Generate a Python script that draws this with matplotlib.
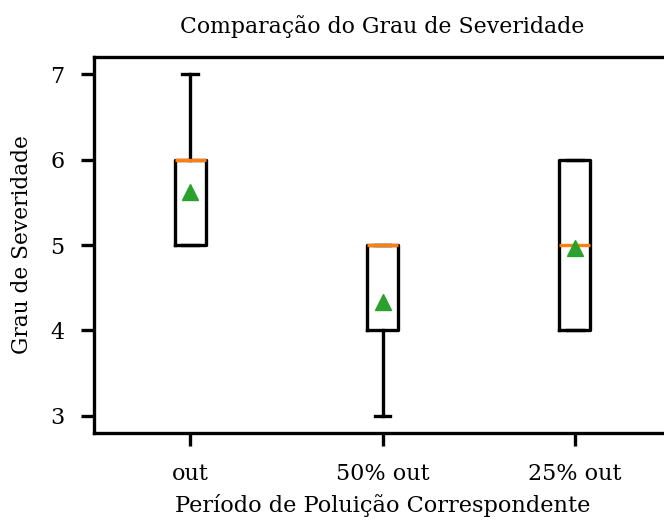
import matplotlib
matplotlib.use("Agg")
import matplotlib.pyplot as plt

# boxplot summary per period
labels = ["out", "50% out", "25% out"]
q1 = [5, 4, 4]
medians = [6, 5, 5]
q3 = [6, 5, 6]
whislo = [5, 3, 4]
whishi = [7, 5, 6]
means = [5.62, 4.33, 4.97]

plt.rcParams['font.family'] = ['DejaVu Serif']

stats = []
for i in range(len(labels)):
    stats.append({
        'label': labels[i],
        'q1': q1[i], 'med': medians[i], 'q3': q3[i],
        'whislo': whislo[i], 'whishi': whishi[i],
        'mean': means[i], 'fliers': [],
    })

fig = plt.figure(figsize=(6.64, 5.21), dpi=100)
ax = fig.add_axes([0.1416, 0.1689, 0.869, 0.7217])

lw = 2.4
ax.bxp(stats, widths=0.16, showmeans=True,
       boxprops=dict(color='black', linewidth=lw),
       whiskerprops=dict(color='black', linewidth=lw),
       capprops=dict(color='black', linewidth=lw),
       medianprops=dict(color='#ff7f0e', linewidth=lw),
       meanprops=dict(marker='^', markerfacecolor='#2ca02c',
                      markeredgecolor='#2ca02c', markersize=11.5))

ax.set_xlim(0.5, 3.5)
ax.set_ylim(2.8, 7.2)
ax.set_yticks([3, 4, 5, 6, 7])
for s in ax.spines.values():
    s.set_linewidth(lw)
ax.tick_params(length=9.4, width=lw, labelsize=16)
ax.tick_params(axis='x', pad=12)
ax.tick_params(axis='y', pad=12)

ax.set_title("Comparação do Grau de Severidade", fontsize=15.8, pad=17)
ax.set_xlabel("Período de Poluição Correspondente", fontsize=16.2, labelpad=7)
ax.set_ylabel("Grau de Severidade", fontsize=15.6, labelpad=12)

fig.savefig("out.png", dpi=100)
